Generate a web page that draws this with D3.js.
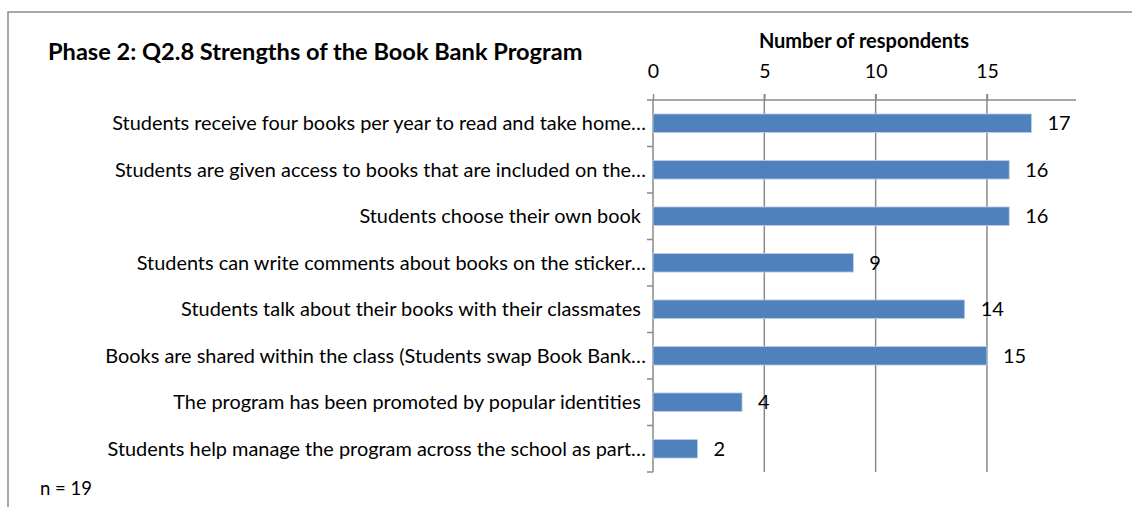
<!DOCTYPE html>
<html>
<head>
<meta charset="utf-8">
<script src="https://cdn.jsdelivr.net/npm/d3@7/dist/d3.min.js"></script>
<style>
  html, body { margin: 0; padding: 0; background: #fff; }
  svg { display: block; }
  text { font-family: Lato, "Open Sans", sans-serif; fill: #000; white-space: pre; }
</style>
</head>
<body>
<svg id="chart" width="1132" height="507"></svg>
<script>
const categories = [
  "Students receive four books per year to read and take home…",
  "Students are given access to books that are included on the…",
  "Students choose their own book ",
  "Students can write comments about books on the sticker…",
  "Students talk about their books with their classmates ",
  "Books are shared within the class (Students swap Book Bank…",
  "The program has been promoted by popular identities ",
  "Students help manage the program across the school as part…"
];
const values = [17, 16, 16, 9, 14, 15, 4, 2];
const tickValues = [0, 5, 10, 15];
const axisMax = 19;
const titleText = "Phase 2: Q2.8 Strengths of the Book Bank Program";
const axisTitle = "Number of respondents";
const noteText = "n = 19";

const svg = d3.select("#chart");
const plot = { left: 653, right: 1076, top: 100, bottom: 472 };
const gridColor = "#8a8a8a";

// outer frame (runs off the right and bottom edges)
svg.append("rect")
  .attr("x", 8).attr("y", 12)
  .attr("width", 1200).attr("height", 600)
  .attr("fill", "none").attr("stroke", "#8c8c8c").attr("stroke-width", 1.5);

const x = d3.scaleLinear().domain([0, axisMax]).range([plot.left, plot.right]);
const y = d3.scaleBand().domain(categories).range([plot.top, plot.bottom])
  .paddingInner(0.6).paddingOuter(0.3);

// vertical gridlines
svg.append("g").selectAll("line").data(tickValues.filter(d => d > 0)).join("line")
  .attr("x1", d => x(d)).attr("x2", d => x(d))
  .attr("y1", plot.top - 6).attr("y2", plot.bottom)
  .attr("stroke", gridColor).attr("stroke-width", 1.5);

// top value axis
const xAxis = d3.axisTop(x).tickValues(tickValues).tickSize(6).tickPadding(16)
  .tickFormat(d3.format("d"));
const gx = svg.append("g").attr("transform", `translate(0,${plot.top})`).call(xAxis);
gx.select(".domain").attr("stroke", gridColor).attr("stroke-width", 1.5)
  .attr("d", `M${plot.left},0H${plot.right}`);
gx.selectAll(".tick line").attr("stroke", gridColor).attr("stroke-width", 1.5);
gx.selectAll(".tick text").attr("font-size", 19.5).attr("fill", "#000")
  .style("font-family", "Lato, sans-serif");

// category axis with ticks at band boundaries
const boundaries = d3.range(categories.length + 1).map(i => plot.top + i * y.step());
svg.append("line")
  .attr("x1", plot.left).attr("x2", plot.left)
  .attr("y1", plot.top).attr("y2", plot.bottom)
  .attr("stroke", gridColor).attr("stroke-width", 1.5);
svg.append("g").selectAll("line").data(boundaries).join("line")
  .attr("x1", plot.left - 6).attr("x2", plot.left)
  .attr("y1", d => d).attr("y2", d => d)
  .attr("stroke", gridColor).attr("stroke-width", 1.5);

// bars
svg.append("g").selectAll("rect").data(values).join("rect")
  .attr("x", x(0))
  .attr("y", (d, i) => y(categories[i]))
  .attr("width", d => x(d) - x(0))
  .attr("height", y.bandwidth())
  .attr("fill", "#4f81bd")
  .attr("stroke", "#bcd0e8").attr("stroke-width", 0.8);

// category labels
svg.append("g").selectAll("text").data(categories).join("text")
  .attr("x", plot.left - 7)
  .attr("y", d => y(d) + y.bandwidth() / 2)
  .attr("dy", "0.35em")
  .attr("text-anchor", "end")
  .attr("font-size", 19.9)
  .text(d => d);

// value labels
svg.append("g").selectAll("text").data(values).join("text")
  .attr("x", d => x(d) + 16)
  .attr("y", (d, i) => y(categories[i]) + y.bandwidth() / 2)
  .attr("dy", "0.35em")
  .attr("font-size", 20)
  .text(d => d);

// titles and note
svg.append("text").attr("x", 48).attr("y", 60)
  .attr("font-size", 23.6).attr("font-weight", 700).text(titleText);
svg.append("text").attr("x", 864).attr("y", 48)
  .attr("text-anchor", "middle")
  .attr("font-size", 20).attr("font-weight", 700).text(axisTitle);
svg.append("text").attr("x", 40).attr("y", 495)
  .attr("font-size", 18.5).text(noteText);
</script>
</body>
</html>
